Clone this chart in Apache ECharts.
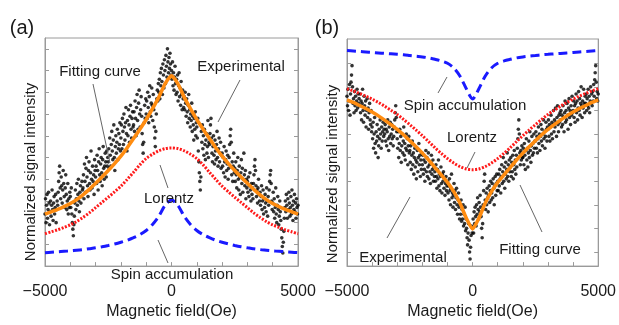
<!DOCTYPE html>
<html><head><meta charset="utf-8">
<script src="https://cdn.jsdelivr.net/npm/echarts@6/dist/echarts.min.js"></script>
<style>html,body{margin:0;padding:0;background:#fff}#c{width:619px;height:325px}</style>
</head><body><div id="c"></div>
<script>
// Field grid for the model curves (Oe)
const curveX = [-5000,-4750,-4500,-4250,-4000,-3750,-3500,-3250,-3000,-2750,-2500,-2250,-2000,-1750,-1500,-1250,-1000,-750,-500,-250,0,250,500,750,1000,1250,1500,1750,2000,2250,2500,2750,3000,3250,3500,3750,4000,4250,4500,4750,5000];
// Panel (a) curves
const lorentzA = [1.49,1.58,1.67,1.78,1.90,2.05,2.24,2.45,2.69,2.93,3.17,3.42,3.68,3.99,4.32,4.66,4.95,5.15,5.31,5.41,5.44,5.41,5.31,5.15,4.95,4.66,4.32,3.99,3.68,3.42,3.17,2.93,2.69,2.45,2.24,2.05,1.90,1.78,1.67,1.58,1.49];
const spinA = [0.62,0.64,0.66,0.68,0.70,0.73,0.76,0.80,0.84,0.89,0.95,1.02,1.10,1.19,1.31,1.45,1.64,1.92,2.30,2.80,3.04,2.80,2.30,1.92,1.64,1.45,1.31,1.19,1.10,1.02,0.95,0.89,0.84,0.80,0.76,0.73,0.70,0.68,0.66,0.64,0.62];
const fitA = [2.39,2.50,2.61,2.74,2.88,3.06,3.28,3.53,3.81,4.10,4.40,4.72,5.06,5.45,5.87,6.30,6.75,7.25,7.78,8.40,8.76,8.40,7.78,7.25,6.75,6.30,5.87,5.45,5.06,4.72,4.40,4.10,3.81,3.53,3.28,3.06,2.88,2.74,2.61,2.50,2.39];
// Panel (b) curves
const lorentzB = [7.52,7.43,7.32,7.21,7.08,6.94,6.78,6.61,6.43,6.22,6.00,5.77,5.53,5.28,5.02,4.78,4.56,4.37,4.22,4.12,4.09,4.12,4.22,4.37,4.56,4.78,5.02,5.28,5.53,5.77,6.00,6.22,6.43,6.61,6.78,6.94,7.08,7.21,7.32,7.43,7.52];
const spinB = [9.14,9.12,9.10,9.08,9.06,9.04,9.02,9.00,8.98,8.96,8.93,8.90,8.87,8.83,8.77,8.70,8.60,8.40,8.05,7.52,7.09,7.52,8.05,8.40,8.60,8.70,8.77,8.83,8.87,8.90,8.93,8.96,8.98,9.00,9.02,9.04,9.06,9.08,9.10,9.12,9.14];
const fitB = [7.05,6.94,6.81,6.68,6.53,6.37,6.19,6.00,5.80,5.57,5.32,5.06,4.79,4.50,4.18,3.87,3.55,3.16,2.66,2.03,1.57,2.03,2.66,3.16,3.55,3.87,4.18,4.50,4.79,5.06,5.32,5.57,5.80,6.00,6.19,6.37,6.53,6.68,6.81,6.94,7.05];
// Experimental points: field from expStart in steps of expStep
const expStart = -5000, expStep = 20;
const expA = [
2.4,3.1,2.0,2.8,3.3,2.2,2.6,3.4,2.9,1.9,2.5,3.0,2.3,2.8,3.5,2.6,2.1,2.9,3.2,2.4,2.7,3.3,2.0,2.6,3.0,
2.8,3.4,3.9,4.3,4.6,3.6,3.1,4.1,3.7,2.9,3.5,4.4,3.8,3.2,2.7,3.6,4.2,3.3,2.6,3.0,3.8,2.4,3.1,2.7,3.4,
3.2,2.7,3.6,2.4,2.0,1.7,1.4,1.9,2.3,2.9,3.5,2.6,3.1,3.8,2.8,3.3,4.0,3.0,2.5,3.4,3.7,2.9,3.2,3.9,3.5,
3.6,4.2,3.1,4.7,3.9,3.4,4.5,5.0,4.1,3.7,3.2,4.4,4.8,3.8,3.5,4.3,5.3,4.0,3.6,4.6,3.9,4.2,3.3,4.9,4.4,
4.1,4.6,3.8,5.1,4.4,3.5,4.8,5.4,4.2,3.9,4.7,5.0,4.3,3.7,4.9,5.5,4.5,4.0,4.6,5.2,4.8,4.1,5.3,4.6,5.0,
4.8,5.4,4.5,5.9,5.1,4.6,5.6,6.2,5.3,4.9,5.8,6.5,5.0,4.4,5.5,6.0,5.2,5.7,6.3,4.9,5.4,6.1,5.6,6.6,5.3,
5.9,6.5,5.4,6.8,6.2,5.6,7.0,6.4,5.8,6.6,7.3,6.1,5.3,6.7,6.0,7.2,6.5,5.7,6.9,7.4,6.3,5.9,6.8,7.1,6.4,
6.5,7.1,6.2,7.6,6.8,6.0,7.3,7.9,6.7,6.3,7.5,8.1,7.0,6.4,7.2,7.8,6.9,6.1,5.6,5.2,5.7,6.6,7.4,6.8,7.7,
7.0,7.6,6.8,8.0,7.3,6.6,7.8,8.3,7.1,6.9,7.5,8.2,7.4,6.7,7.9,7.2,6.4,5.9,5.5,6.2,7.0,7.7,8.1,7.6,8.4,
8.0,8.6,7.7,8.9,8.3,9.1,8.5,7.9,9.3,8.8,8.2,9.5,9.0,8.4,9.7,9.2,8.7,10.0,9.4,8.9,9.6,9.1,9.8,9.3,8.8,
9.0,8.6,9.4,8.3,8.9,8.1,8.7,9.2,8.4,7.9,8.6,8.0,8.8,7.6,8.3,8.9,7.8,8.2,7.4,8.5,7.9,7.2,8.1,7.7,7.3,
7.8,7.2,8.0,7.5,6.9,7.7,7.1,6.6,7.4,7.9,6.8,7.2,6.4,7.0,6.7,7.5,6.2,6.9,6.5,5.8,6.8,6.3,7.1,6.0,6.6,
6.4,5.9,6.8,5.3,4.8,4.3,3.9,3.5,4.1,6.2,5.7,6.5,5.4,6.0,5.1,6.3,5.6,4.9,5.8,6.1,5.2,5.5,6.7,5.0,5.7,
5.6,6.1,6.5,6.8,5.9,5.2,4.8,5.5,6.0,5.1,4.7,5.8,5.3,4.9,5.6,6.2,5.0,4.6,5.4,5.9,4.8,5.2,5.7,4.5,5.1,
5.2,4.6,5.0,4.3,5.5,4.8,4.1,4.9,5.3,4.4,4.7,5.1,4.0,4.5,5.0,5.6,6.0,6.3,5.7,4.2,4.8,3.9,4.6,5.2,4.3,
4.5,3.9,4.8,4.2,3.6,4.4,5.0,4.0,3.5,4.6,4.1,3.3,4.3,4.9,3.8,4.5,3.4,4.0,5.2,4.2,3.7,4.4,3.1,4.0,3.6,
3.9,3.4,4.1,3.2,3.7,4.3,3.5,3.0,3.8,3.3,3.6,3.1,3.8,4.2,4.6,4.9,4.4,3.7,3.2,3.5,2.9,3.6,4.0,3.3,3.0,
3.4,2.8,3.2,3.7,2.6,3.0,3.5,2.4,3.1,2.7,3.3,2.9,2.5,3.6,3.0,2.3,3.2,2.8,3.5,3.9,4.2,4.4,3.8,3.0,2.6,
2.9,3.4,2.5,3.1,2.2,2.7,3.6,2.4,2.0,2.8,3.2,2.6,1.9,2.3,3.0,2.5,2.1,1.7,1.3,0.9,0.6,1.1,1.6,2.2,2.7,
3.0,2.5,3.3,2.8,2.2,3.1,2.6,3.4,2.9,2.3,2.7,3.2,2.4,3.5,2.8,2.1,3.0,2.6,3.3,2.5,2.9,2.2,3.1,2.7,2.4,
2.8];
const expB = [
7.2,6.8,7.5,6.6,7.0,7.7,6.4,7.3,7.8,8.1,8.5,7.6,6.9,7.1,6.5,7.4,6.8,7.2,6.6,7.0,7.5,6.7,7.3,6.9,7.1,
6.8,7.3,6.5,7.0,6.2,6.9,7.5,6.6,6.1,7.2,6.8,6.4,7.0,5.9,6.6,7.1,6.3,6.7,5.8,6.5,6.9,6.2,6.0,6.6,5.7,
5.9,5.4,6.1,5.0,5.6,6.3,5.2,4.8,5.7,5.3,6.0,5.5,4.6,5.1,5.8,5.4,6.2,5.6,5.0,5.9,5.3,5.7,6.1,5.5,5.8,
5.6,6.0,5.3,5.8,5.1,5.7,6.2,5.4,4.9,5.9,5.5,6.1,5.2,5.6,6.0,5.4,5.8,5.1,5.5,5.9,6.2,6.5,6.8,6.3,5.7,
5.4,5.0,5.7,4.6,5.2,5.8,4.9,5.5,4.4,5.1,5.6,4.8,5.3,5.9,4.7,5.2,4.5,5.0,5.6,4.9,5.4,4.3,5.1,5.5,4.8,
4.9,4.4,5.1,4.1,4.7,5.3,4.3,4.8,3.9,4.6,5.0,4.2,4.5,3.7,4.4,4.9,4.0,4.6,5.2,4.3,4.7,3.8,4.5,4.1,4.8,
4.3,4.7,3.9,4.5,4.1,3.6,4.4,4.9,4.0,4.6,3.8,4.2,4.8,3.7,4.3,4.0,3.5,4.4,4.7,3.9,4.1,4.5,3.6,4.2,3.8,
4.0,3.6,4.3,3.8,3.3,4.1,3.7,4.5,3.4,3.9,3.2,3.8,4.2,3.5,3.1,3.9,3.6,4.0,3.3,3.7,3.0,3.5,3.8,3.2,3.4,
3.6,3.1,3.4,2.8,3.7,3.2,2.6,3.3,3.9,2.9,3.1,2.5,3.0,3.5,2.7,3.2,2.4,2.9,3.3,2.6,2.2,2.8,3.1,2.5,2.0,
2.6,2.2,2.8,1.9,2.4,2.0,2.6,1.7,2.2,1.8,2.5,1.5,2.0,1.6,1.2,0.9,1.4,1.8,1.1,0.6,0.3,0.8,1.3,1.7,1.4,
1.6,2.0,1.4,2.3,1.8,2.5,2.1,1.7,2.6,2.2,2.9,2.4,2.0,2.7,2.3,3.0,2.5,2.1,1.6,1.2,1.8,2.6,3.2,3.6,3.9,
2.8,2.4,3.1,2.6,3.3,2.9,2.3,3.0,3.4,2.7,3.2,3.6,2.8,3.1,3.5,2.9,3.7,3.3,2.6,3.4,3.8,3.0,3.5,3.9,3.2,
3.6,3.2,3.9,3.4,4.1,3.7,3.1,3.8,4.3,3.5,4.0,4.6,3.6,4.2,3.3,3.9,4.4,3.7,4.1,4.8,3.8,4.3,3.6,4.5,4.0,
4.2,4.6,3.8,4.4,4.0,4.7,3.7,4.3,4.9,4.1,4.5,3.9,4.7,4.2,5.0,5.4,5.8,6.2,5.6,4.8,4.3,4.9,4.5,5.1,4.6,
4.6,5.0,4.3,5.2,4.7,4.1,4.9,5.4,4.5,5.0,4.2,4.8,5.3,4.6,5.7,4.9,4.4,5.1,5.5,4.7,5.2,4.8,5.6,5.0,5.3,
5.3,5.7,5.0,5.5,4.8,5.4,5.9,5.2,5.6,4.9,5.5,6.0,5.3,5.8,5.1,5.6,6.2,5.4,5.7,5.0,5.5,6.1,5.8,5.3,5.9,
5.8,6.2,5.5,6.0,5.3,5.9,6.4,5.6,6.1,5.4,6.0,6.6,5.7,6.2,5.9,6.7,6.1,5.5,6.3,6.8,6.0,5.7,6.4,6.1,6.5,
6.2,6.6,5.9,6.4,6.0,6.8,6.3,5.7,6.5,7.0,6.1,6.6,6.2,6.9,6.4,5.8,6.7,7.1,6.3,6.6,6.0,6.8,6.4,7.2,6.5,
6.6,7.0,6.3,6.8,6.1,6.9,7.3,6.5,7.0,6.2,6.7,7.4,6.6,7.1,6.4,6.9,7.6,6.8,6.3,7.0,6.7,7.5,6.9,6.5,7.2,
6.9,7.3,6.6,7.1,6.8,7.5,6.7,7.2,6.5,7.0,7.6,6.9,7.3,6.8,7.4,7.0,7.7,7.2,7.9,8.2,8.5,7.8,7.1,7.4,7.0,
7.3];
const xTickLabels = [-5000, 0, 5000];
const yTicksA = [0,1,2,3,4,5,6,7,8,9,10];
const yTicksB = [0.6,1.6,2.6,3.6,4.6,5.6,6.6,7.6,8.6];

const pair = (xs, ys) => ys.map((y, i) => [xs[i], y]);
const expPairs = ys => ys.map((y, i) => [expStart + i * expStep, y]);

const FONT = '"Liberation Sans", Arial, sans-serif';
const AX = '#9a9a9a';
const TXT = '#1a1a1a';

function xAxis(gi) {
  return {
    gridIndex: gi, type: 'value', min: -5000, max: 5000, interval: 1000,
    axisLine: { show: true, lineStyle: { color: AX } },
    axisTick: { show: true, inside: true, length: 4, lineStyle: { color: AX } },
    axisLabel: { fontSize: 16, color: TXT, fontFamily: FONT, margin: 17,
      formatter: v => xTickLabels.indexOf(v) >= 0 ? (v < 0 ? '\u2212' + Math.abs(v) : String(v)) : '' },
    splitLine: { show: false },
    name: 'Magnetic field(Oe)', nameLocation: 'middle', nameGap: 30,
    nameTextStyle: { fontSize: 16, color: TXT, fontFamily: FONT }
  };
}
function yAxis(gi, max, ticks, pos) {
  return {
    gridIndex: gi, type: 'value', min: 0, max: max, position: pos,
    axisLine: { show: true, onZero: false, lineStyle: { color: AX } },
    axisTick: { show: true, inside: true, length: 4, lineStyle: { color: AX }, customValues: ticks },
    axisLabel: { show: false, customValues: ticks },
    splitLine: { show: false }
  };
}
function lines(xi, yi, lor, spin, fit) {
  return [
    { type: 'line', xAxisIndex: xi, yAxisIndex: yi, data: pair(curveX, lor), showSymbol: false, smooth: 0.3, silent: true, z: 3,
      lineStyle: { color: '#ff1a1a', width: 3, type: [2, 1.5] } },
    { type: 'line', xAxisIndex: xi, yAxisIndex: yi, data: pair(curveX, spin), showSymbol: false, smooth: 0.3, silent: true, z: 3,
      lineStyle: { color: '#1a1aff', width: 3, type: [9, 5] } },
    { type: 'line', xAxisIndex: xi, yAxisIndex: yi, data: pair(curveX, fit), showSymbol: false, smooth: 0.2, silent: true, z: 4,
      lineStyle: { color: '#ff8c10', width: 3.5 } }
  ];
}
function label(text, x, y, size, rot) {
  return { type: 'text', x: x, y: y, rotation: rot || 0, silent: true, z: 100,
    style: { text: text, font: (size || 15) + 'px ' + FONT, fill: TXT, align: 'center', verticalAlign: 'middle' } };
}
function pointer(x1, y1, x2, y2) {
  return { type: 'line', silent: true, z: 100, shape: { x1, y1, x2, y2 }, style: { stroke: '#666', lineWidth: 1 } };
}

const chart = echarts.init(document.getElementById('c'));
chart.setOption({
  animation: false,
  backgroundColor: '#fff',
  grid: [
    { left: 45, top: 38, width: 253, height: 245, show: true, borderColor: AX, borderWidth: 1 },
    { left: 347, top: 39, width: 255, height: 244, show: true, borderColor: AX, borderWidth: 1 }
  ],
  xAxis: [xAxis(0), xAxis(1)],
  yAxis: [yAxis(0, 10.5, yTicksA, 'left'), yAxis(1, 9.63, yTicksB, 'left'),
          yAxis(0, 10.5, yTicksA, 'right'), yAxis(1, 9.63, yTicksB, 'right')],
  series: [
    { type: 'scatter', xAxisIndex: 0, yAxisIndex: 0, data: expPairs(expA), symbol: 'circle', symbolSize: 3.6, silent: true, z: 2, itemStyle: { color: '#000' } },
    ...lines(0, 0, lorentzA, spinA, fitA),
    { type: 'scatter', xAxisIndex: 1, yAxisIndex: 1, data: expPairs(expB), symbol: 'circle', symbolSize: 3.6, silent: true, z: 2, itemStyle: { color: '#000' } },
    ...lines(1, 1, lorentzB, spinB, fitB)
  ],
  graphic: [
    label('(a)', 22, 28, 20), label('(b)', 327, 28, 20),
    label('Normalized signal intensity', 31, 172, 15, Math.PI / 2),
    label('Normalized signal intensity', 333, 174, 15, Math.PI / 2),
    label('Fitting curve', 100, 72), pointer(93, 84, 110, 163),
    label('Experimental', 241, 67), pointer(240, 80, 218, 122),
    label('Lorentz', 169, 199), pointer(160, 165, 168, 188),
    label('Spin accumulation', 172, 275), pointer(158, 240, 168, 263),
    label('Spin accumulation', 465, 106), pointer(447, 77, 438, 93),
    label('Lorentz', 472, 138), pointer(475, 152, 467, 168),
    label('Experimental', 403, 258), pointer(410, 197, 387, 238),
    label('Fitting curve', 540, 250), pointer(520, 185, 542, 232)
  ]
});
</script></body></html>
